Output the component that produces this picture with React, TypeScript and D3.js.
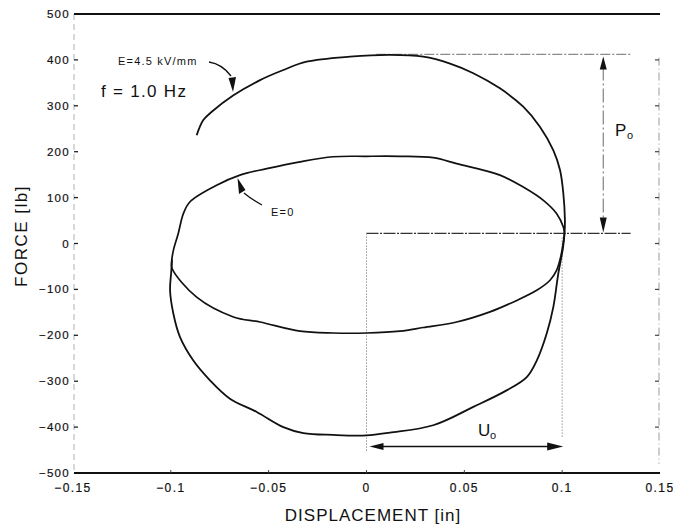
import React from "react";
import * as d3 from "d3";

// ---- data ----
const xTicks = [-0.15, -0.1, -0.05, 0, 0.05, 0.1, 0.15];
const xTickLabels = ["−0.15", "−0.1", "−0.05", "0", "0.05", "0.1", "0.15"];
const yTicks = [500, 400, 300, 200, 100, 0, -100, -200, -300, -400, -500];
const yTickLabels = ["500", "400", "300", "200", "100", "0", "−100", "−200", "−300", "−400", "−500"];

// E = 4.5 kV/mm loop (displacement in, force lb)
const outerX = [-0.0868, -0.0834, -0.0791, -0.068, -0.0544, -0.0425, -0.0306, -0.0084, 0.012, 0.029, 0.0427, 0.0546, 0.0682, 0.0801, 0.0887, 0.0955, 0.0989, 0.1006, 0.1014, 0.1012, 0.1004, 0.098, 0.0955, 0.0921, 0.087, 0.0819, 0.0716, 0.0546, 0.0341, 0.012, 0, -0.017, -0.0323, -0.0425, -0.0561, -0.0698, -0.08, -0.0885, -0.0953, -0.0987, -0.1004, -0.0998, -0.0994];
const outerY = [236, 269, 287, 323, 356, 378, 396, 407, 411, 407, 392, 371, 338, 298, 254, 203, 160, 109, 51, 22, -10, -66, -138, -196, -255, -291, -320, -356, -396, -412, -418, -417, -413, -400, -367, -338, -298, -255, -204, -153, -102, -62, -35];

// E = 0 loop
const innerX = [0.1012, 0.1006, 0.0972, 0.0904, 0.0801, 0.0682, 0.0461, 0.0341, 0.0171, 0, -0.017, -0.034, -0.051, -0.0647, -0.0766, -0.0902, -0.0936, -0.0962, -0.0987, -0.0996, -0.0993, -0.0868, -0.068, -0.0544, -0.034, -0.017, 0, 0.0171, 0.029, 0.0461, 0.0631, 0.0768, 0.087, 0.0938, 0.0972, 0.0992, 0.1005, 0.1012];
const innerY = [22, 36, 65, 94, 123, 149, 174, 187, 190, 190, 189, 178, 163, 149, 127, 91, 65, 22, -15, -40, -55, -117, -160, -171, -191, -195, -195, -191, -183, -171, -149, -124, -102, -80, -58, -30, 0, 22];

// annotation reference values
const P0 = 412;
const zeroForce = 22;
const U0 = 0.1;
const refRight = 0.135;

const W = 673;
const H = 527;
const FONT = "'Liberation Sans', Arial, Helvetica, sans-serif";

export default function App() {
  const x = d3.scaleLinear().domain([-0.15, 0.15]).range([73, 660]);
  const y = d3.scaleLinear().domain([-500, 500]).range([473, 14]);

  const line = d3
    .line<[number, number]>()
    .x((d) => x(d[0]))
    .y((d) => y(d[1]))
    .curve(d3.curveCatmullRom.alpha(0.5));

  const outer: [number, number][] = outerX.map((v, i) => [v, outerY[i]]);
  const inner: [number, number][] = innerX.map((v, i) => [v, innerY[i]]);

  const px0 = x(0);
  const pxU = x(U0);
  const pxR = x(refRight);
  const pyP = y(P0);
  const pyZ = y(zeroForce);
  const arrowX = x(0.121);
  const uY = y(-442);

  return (
    <svg
      width={W}
      height={H}
      style={{ position: "absolute", left: 0, top: 0, background: "#fff" }}
      fontFamily={FONT}
    >
      <rect x={0} y={0} width={W} height={H} fill="#fff" />

      {/* left faint axis */}
      <line x1={74} x2={74} y1={y(500)} y2={y(-500)} stroke="#d8d8d8" strokeWidth={2} strokeDasharray="6 4" />
      {/* right grey dashed axis */}
      <line x1={659} x2={659} y1={y(405)} y2={y(-480)} stroke="#9a9a9a" strokeWidth={1} strokeDasharray="8 3 1 3" />
      {yTicks.filter((t) => t < 450 && t > -450).map((t) => (
        <line key={"rt" + t} x1={655} x2={659} y1={y(t)} y2={y(t)} stroke="#444" strokeWidth={1.2} />
      ))}

      {/* top and bottom thick lines */}
      <line x1={74} x2={660} y1={y(500)} y2={y(500)} stroke="#111" strokeWidth={2} />
      <line x1={74} x2={660} y1={y(-500)} y2={y(-500)} stroke="#111" strokeWidth={2.2} />

      {/* y ticks */}
      {yTicks.map((t, i) => (
        <g key={"yt" + t}>
          {t !== 500 && t !== -500 && (
            <line x1={74} x2={78} y1={y(t)} y2={y(t)} stroke="#222" strokeWidth={1.3} />
          )}
          <text x={70} y={y(t) + 4} textAnchor="end" fontSize={11.5} letterSpacing={1.3} fill="#111" stroke="#111" strokeWidth={0.2}>
            {yTickLabels[i]}
          </text>
        </g>
      ))}

      {/* x ticks */}
      {xTicks.map((t, i) => (
        <g key={"xt" + t}>
          {t > -0.14 && t < 0.14 && (
            <line x1={x(t)} x2={x(t)} y1={y(-500) - 3} y2={y(-500)} stroke="#444" strokeWidth={1} />
          )}
          <text x={x(t)} y={492} textAnchor="middle" fontSize={12} letterSpacing={1.4} fill="#111" stroke="#111" strokeWidth={0.2}>
            {xTickLabels[i]}
          </text>
        </g>
      ))}

      {/* axis titles */}
      <text x={373} y={521} textAnchor="middle" fontSize={17} letterSpacing={1} fill="#111">
        DISPLACEMENT [in]
      </text>
      <text
        transform={`translate(27,236) rotate(-90)`}
        textAnchor="middle"
        fontSize={17}
        letterSpacing={1.5}
        fill="#111"
      >
        FORCE [lb]
      </text>

      {/* reference lines */}
      <line x1={x(0.005)} x2={pxR} y1={pyP} y2={pyP} stroke="#8a8a8a" strokeWidth={1.2} strokeDasharray="10 2 2 2" />
      <line x1={px0} x2={pxR} y1={pyZ} y2={pyZ} stroke="#333" strokeWidth={1.2} strokeDasharray="12 1.5 2 1.5" />
      <line x1={px0} x2={px0} y1={pyZ} y2={452} stroke="#999" strokeWidth={1} strokeDasharray="1.5 1.5" />
      <line x1={pxU} x2={pxU} y1={pyZ + 4} y2={437} stroke="#999" strokeWidth={1} strokeDasharray="1.5 1.5" />

      {/* P0 arrow */}
      <line x1={arrowX} x2={arrowX} y1={pyP + 12} y2={pyZ - 14} stroke="#777" strokeWidth={1.1} strokeDasharray="14 3 2 3" />
      <path d={`M${arrowX},${pyP + 2} L${arrowX - 3.5},${pyP + 15} L${arrowX + 3.5},${pyP + 15} Z`} fill="#111" />
      <path d={`M${arrowX},${pyZ - 1} L${arrowX - 3.5},${pyZ - 16} L${arrowX + 3.5},${pyZ - 16} Z`} fill="#111" />
      <text x={615} y={136} fontSize={17} fill="#111">
        P
      </text>
      <text x={627} y={139} fontSize={11} fill="#111">
        o
      </text>

      {/* U0 arrow */}
      <line x1={px0 + 10} x2={pxU - 12} y1={uY} y2={uY} stroke="#111" strokeWidth={1.5} />
      <path d={`M${px0 + 3},${uY} L${px0 + 17},${uY - 3.5} L${px0 + 17},${uY + 3.5} Z`} fill="#111" />
      <path d={`M${pxU + 1},${uY} L${pxU - 15},${uY - 4} L${pxU - 15},${uY + 4} Z`} fill="#111" />
      <text x={478} y={436} fontSize={17} fill="#111">
        U
      </text>
      <text x={490} y={439} fontSize={11} fill="#111">
        o
      </text>

      {/* curves */}
      <path d={line(outer) || ""} fill="none" stroke="#111" strokeWidth={1.8} strokeLinejoin="round" />
      <path d={line(inner) || ""} fill="none" stroke="#111" strokeWidth={1.7} strokeLinejoin="round" />

      {/* annotations */}
      <text x={118} y={65} fontSize={11} letterSpacing={1.2} fill="#111">
        E=4.5 kV/mm
      </text>
      <path d="M209,62 Q222,64 231,76" fill="none" stroke="#111" strokeWidth={1.3} />
      <path d="M233,92 L228.5,78 L236,77 Z" fill="#111" />

      <text x={101} y={97} fontSize={17} letterSpacing={1.3} fill="#111">
        f = 1.0 Hz
      </text>

      <text x={271} y={216} fontSize={11} letterSpacing={1.2} fill="#111">
        E=0
      </text>
      <path d="M262,205 Q251,199 244,193" fill="none" stroke="#111" strokeWidth={1.3} />
      <path d="M237.5,178 L239,194 L245.5,190 Z" fill="#111" />
    </svg>
  );
}
